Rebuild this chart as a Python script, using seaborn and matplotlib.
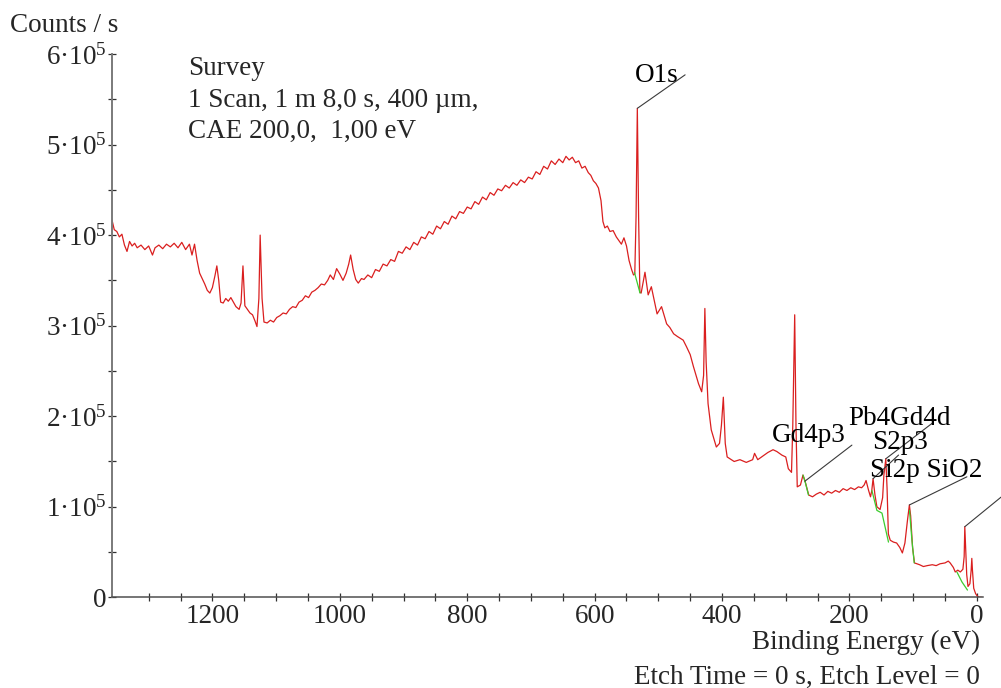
import numpy as np
import pandas as pd
import matplotlib
matplotlib.use("Agg")
import matplotlib.pyplot as plt
import seaborn as sns
from matplotlib.ticker import MultipleLocator, FixedLocator, FuncFormatter

# ---------------- data (binding energy in eV, counts in kcounts/s) ----------------
energy_ev = [
    1358, 1354, 1350, 1346, 1342, 1338, 1334, 1330, 1326, 1322, 1318, 1312, 1306, 1300,
    1294, 1290, 1284, 1278, 1272, 1266, 1260, 1254, 1248, 1242, 1236, 1232, 1228,
    1224, 1220, 1216, 1212, 1208, 1204, 1200, 1196, 1193, 1190, 1187, 1183, 1179, 1175,
    1171, 1167, 1163, 1158, 1155, 1152, 1149, 1145, 1141, 1137, 1133, 1130, 1127, 1125,
    1122, 1119, 1114, 1109, 1104, 1099, 1094, 1089, 1084, 1079, 1074, 1069, 1064, 1059,
    1054, 1049, 1044, 1039, 1034, 1029, 1024, 1019, 1015, 1010, 1005, 1000, 995, 990,
    986, 983, 979, 975, 971, 966,
    962, 956, 950, 944, 938, 932, 926, 920, 914, 908, 902, 896, 890, 884, 878, 872, 866,
    860, 854, 848, 842, 836, 830, 824, 818, 812, 806, 800, 794, 788, 782, 776, 770, 764,
    758, 752, 746, 740, 734, 728, 722, 716, 710, 704, 698, 692, 686, 680, 674, 668, 662,
    656, 650, 645, 640, 635, 630, 625, 620, 615, 610, 606, 602, 598,
    594, 590, 587, 584, 580, 576, 571, 566, 562, 558, 554, 550, 546, 542, 539, 537, 535,
    533, 531, 529, 527, 521, 516, 511, 506, 502, 495, 487, 482, 476, 470, 461, 456, 450,
    445, 437, 432, 429, 427, 425, 422, 417, 409, 404, 401, 398, 395, 392, 381, 372, 362,
    352, 349, 344, 336, 328, 320, 314, 306, 300, 296, 291, 289, 286, 284, 282, 277, 273,
    270, 264, 258, 252, 246, 240, 234, 228, 222, 216, 210, 204, 198, 192, 186, 181, 177,
    174, 170, 167, 165, 163, 160, 157, 152, 148, 146, 143, 141, 139, 136, 131, 126, 121,
    117, 113, 109, 106, 104, 101, 98, 90, 84, 78, 70, 64, 58, 50, 45, 42, 37, 34, 30, 26,
    22, 20, 19, 18, 16, 14, 11, 9, 8, 7, 5, 2, 0, -3, -8,
]
counts_k = [
    418, 406, 404, 398, 401, 389, 382, 393, 388, 391, 386, 389, 384, 388,
    378, 386, 389, 385, 390, 387, 391, 386, 392, 384, 390, 378, 390,
    372, 358, 352, 346, 339, 336, 342, 355, 366, 350, 326, 325, 330, 327,
    331, 326, 321, 318, 325, 366, 322, 318, 314, 312, 305, 299, 330, 400,
    330, 304, 303, 306, 304, 309, 311, 314, 313, 318, 321, 320, 326, 328,
    333, 331, 337, 339, 342, 346, 345, 350, 356, 351, 363, 357, 350, 358,
    368, 378, 362, 351, 347, 352,
    351, 356, 353, 362, 360, 368, 366, 373, 371, 382, 380, 387, 384, 392, 389, 398, 396,
    404, 401, 410, 407, 415, 412, 421, 418, 426, 424, 431, 429, 437, 434, 442, 439, 447,
    444, 451, 449, 455, 452, 458, 455, 461, 458, 464, 462, 470, 467, 476, 473, 482, 478,
    484, 480, 487, 483, 486, 480, 482, 474, 476, 469, 466, 460, 457,
    452, 438, 415, 408, 410, 404, 405, 398, 394, 390, 397, 388, 372, 362, 356, 357, 420,
    540, 420, 337, 336, 359, 334, 343, 326, 313, 321, 302, 298, 291, 288, 284, 277, 268,
    255, 236, 227, 245, 319, 260, 214, 185, 166, 170, 190, 221, 170, 155, 150, 152, 149,
    152, 159, 152, 156, 160, 163, 161, 157, 155, 142, 138, 190, 312, 190, 122, 124, 135,
    129, 113, 111, 114, 116, 113, 117, 115, 118, 116, 120, 118, 121, 119, 122, 121, 124,
    129, 118, 111, 118, 131, 113, 100, 97, 110, 135, 153, 120, 70, 63, 61, 60, 55,
    49, 60, 85, 102, 90, 55, 38, 36, 34, 35, 36, 35, 37, 38, 40, 38, 33, 28, 30, 28,
    31, 45, 78, 60, 25, 12, 15, 30, 43, 30, 10, 4, 2, 0, 0,
]

# background (fitted) segments drawn in green
bg_segment = ["O1s", "O1s", "O1s", "Gd4p3", "Gd4p3", "Gd4p3",
              "S2p3", "S2p3", "S2p3", "S2p3", "Si2p", "Si2p", "Si2p",
              "low", "low", "low"]
bg_energy_ev = [537.6, 533.0, 528.8, 273.0, 269.0, 264.4,
                164.8, 157.0, 149.0, 138.8, 105.8, 102.0, 98.4,
                31.4, 23.5, 14.8]
bg_counts_k = [359, 347, 336, 135, 126, 113,
               118, 96, 93, 61, 96, 63, 38,
               28, 17, 8]

# peak labels
peak_labels = ["O1s", "Gd4p3", "Pb4Gd4d", "S2p3", "Si2p SiO2", ""]
peak_energy_ev = [533, 270, 143, 163, 106, 19]

# ---------------- style ----------------
sns.set_style("white")
plt.rcParams["font.family"] = ["Liberation Serif", "DejaVu Serif"]
plt.rcParams["mathtext.fontset"] = "custom"
plt.rcParams["mathtext.rm"] = "Liberation Serif"
plt.rcParams["mathtext.default"] = "regular"
FS = 19.5
RED = "#da1f1f"
GREEN = "#3ccc2e"

df = pd.DataFrame({"E": energy_ev, "C": np.array(counts_k, dtype=float) * 1000.0})
bg = pd.DataFrame({"E": bg_energy_ev, "C": np.array(bg_counts_k, dtype=float) * 1000.0,
                   "seg": bg_segment})

fig = plt.figure(figsize=(10.01, 6.88), dpi=100)
ax = fig.add_axes([0.1116, 0.1318, 0.8707, 0.7897])

sns.lineplot(data=df, x="E", y="C", color=RED, lw=0.9, estimator=None, sort=False, ax=ax)
sns.lineplot(data=bg, x="E", y="C", units="seg", color=GREEN, lw=0.9,
             estimator=None, sort=False, ax=ax)

ax.set_xlim(1358, -10)
ax.set_ylim(0, 6e5)
ax.set_xlabel("")
ax.set_ylabel("")

for s in ["top", "right"]:
    ax.spines[s].set_visible(False)
ax.spines["left"].set_color("#7a7a7a")
ax.spines["left"].set_linewidth(1.4)
ax.spines["bottom"].set_color("#505050")
ax.spines["bottom"].set_linewidth(1.1)

ax.xaxis.set_major_locator(MultipleLocator(200))
ax.xaxis.set_minor_locator(FixedLocator(list(range(50, 1301, 50))))
ax.yaxis.set_major_locator(MultipleLocator(1e5))
ax.yaxis.set_minor_locator(MultipleLocator(5e4))


def yfmt(v, pos):
    m = int(round(v / 1e5))
    if m == 0:
        return "0"
    return r"$%d{·}10^{5}$" % m


ax.yaxis.set_major_formatter(FuncFormatter(yfmt))
ax.tick_params(which="both", bottom=True, left=True, top=False, right=False,
               direction="inout", length=6, width=0.9, color="#303030")
ax.tick_params(axis="x", which="major", labelsize=FS, pad=2)
ax.tick_params(axis="y", which="major", labelsize=FS, pad=0.5)

# ---------------- peak annotations ----------------
E_arr = np.array(energy_ev[::-1], dtype=float)
C_arr = np.array(counts_k[::-1], dtype=float) * 1000.0
bgE = np.array(bg_energy_ev)
leader_ends = [(458, 5.77e5), (196.2, 1.681e5), (70.6, 1.92e5), (123, 1.571e5),
               (15.7, 1.331e5), (-38, 1.107e5)]
text_pos = [(536.4, 5.69e5), (321.8, 1.714e5), (202, 1.905e5), (164.8, 1.64e5),
            (167.5, 1.33e5), None]
for lab, pe, end, tp in zip(peak_labels, peak_energy_ev, leader_ends, text_pos):
    if lab == "Gd4p3":
        py = np.interp(pe, bgE[3:6][::-1], np.array(bg_counts_k[3:6][::-1]) * 1000.0)
    else:
        py = np.interp(pe, E_arr, C_arr)
    ax.plot([pe, end[0]], [py, end[1]], color="#3a3a3a", lw=0.8, clip_on=False)
    if tp is not None:
        ax.text(tp[0], tp[1], lab, fontsize=FS, ha="left", va="baseline", color="black")

# ---------------- texts ----------------
fig.text(10 / 1001, 1 - 32 / 688, "Counts / s", fontsize=FS, va="baseline", ha="left")
info_lines = ["Survey", "1 Scan, 1 m 8,0 s, 400 \u00b5m,", "CAE 200,0,  1,00 eV"]
for line, yb in zip(info_lines, [75, 107, 138]):
    fig.text(188 / 1001, 1 - yb / 688, line, fontsize=FS, va="baseline", ha="left")
fig.text(980 / 1001, 1 - 649 / 688, "Binding Energy (eV)", fontsize=FS,
         va="baseline", ha="right")
fig.text(980 / 1001, 1 - 684 / 688, "Etch Time = 0 s, Etch Level = 0", fontsize=FS,
         va="baseline", ha="right")

fig.savefig("out.png", dpi=100, facecolor="white")
